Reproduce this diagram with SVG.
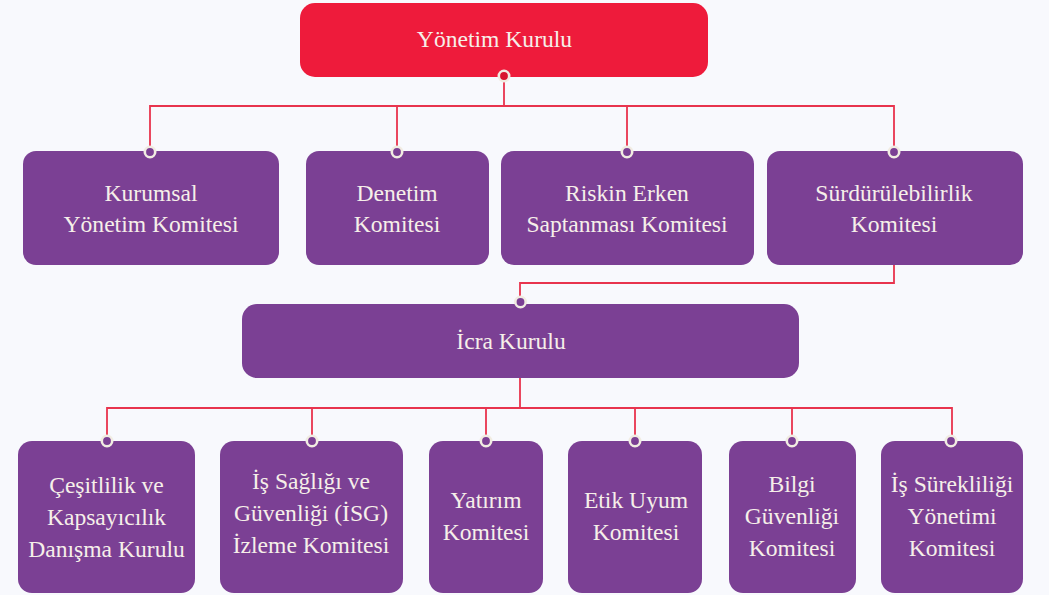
<svg xmlns="http://www.w3.org/2000/svg" width="1049" height="595" viewBox="0 0 1049 595">
<style>
.bg{fill:#f8f9fd}
.red{fill:#ee1b3b}
.pur{fill:#7b4094}
.t{font-family:"Liberation Serif","Times New Roman",serif;font-size:23.6px;fill:#f6efe9;text-anchor:middle}
.ln{fill:none;stroke:#e8344e;stroke-width:1.8}
.dp{fill:#7b4094;stroke:#f1ece2;stroke-width:2.6}
.dr{fill:#d8162f;stroke:#f1ece2;stroke-width:2.6}
</style>
<rect class="bg" x="0" y="0" width="1049" height="595"/>
<g id="connectors">
<path class="ln" d="M504 76V106M150 152V106H894V152M397 106V152M627 106V152"/>
<path class="ln" d="M894 265V283H520V304"/>
<path class="ln" d="M520 378V408M107 441V408H952V441M312 408V441M486 408V441M635 408V441M792 408V441"/>
</g>
<g id="yonetim-kurulu">
<rect class="red" x="300" y="3" width="408" height="74" rx="15"/>
<text class="t" x="494.5" y="47">Yönetim Kurulu</text>
<circle class="dr" cx="504" cy="76" r="5.2"/>
</g>
<g id="kurumsal">
<rect class="pur" x="23" y="151" width="256" height="114" rx="13"/>
<text class="t" x="151" y="201">Kurumsal</text>
<text class="t" x="151" y="232">Yönetim Komitesi</text>
<circle class="dp" cx="150" cy="152" r="5.2"/>
</g>
<g id="denetim">
<rect class="pur" x="306" y="151" width="183" height="114" rx="13"/>
<text class="t" x="397" y="201">Denetim</text>
<text class="t" x="397" y="232">Komitesi</text>
<circle class="dp" cx="397" cy="152" r="5.2"/>
</g>
<g id="riskin">
<rect class="pur" x="501" y="151" width="253" height="114" rx="13"/>
<text class="t" x="627" y="201">Riskin Erken</text>
<text class="t" x="627" y="232">Saptanması Komitesi</text>
<circle class="dp" cx="627" cy="152" r="5.2"/>
</g>
<g id="surdurulebilirlik">
<rect class="pur" x="767" y="151" width="256" height="114" rx="13"/>
<text class="t" x="894" y="201">Sürdürülebilirlik</text>
<text class="t" x="894" y="232">Komitesi</text>
<circle class="dp" cx="894" cy="152" r="5.2"/>
</g>
<g id="icra-kurulu">
<rect class="pur" x="242" y="304" width="557" height="74" rx="15"/>
<text class="t" x="511" y="349">İcra Kurulu</text>
<circle class="dp" cx="520.5" cy="302" r="5.2"/>
</g>
<g id="cesitlilik">
<rect class="pur" x="18" y="441" width="177" height="152" rx="14"/>
<text class="t" x="106.5" y="493">Çeşitlilik ve</text>
<text class="t" x="106.5" y="525">Kapsayıcılık</text>
<text class="t" x="106.5" y="557">Danışma Kurulu</text>
<circle class="dp" cx="107" cy="441" r="5.2"/>
</g>
<g id="isg">
<rect class="pur" x="220" y="441" width="183" height="152" rx="14"/>
<text class="t" x="311" y="489">İş Sağlığı ve</text>
<text class="t" x="311" y="521">Güvenliği (İSG)</text>
<text class="t" x="311" y="553">İzleme Komitesi</text>
<circle class="dp" cx="312" cy="441" r="5.2"/>
</g>
<g id="yatirim">
<rect class="pur" x="429" y="441" width="114" height="152" rx="14"/>
<text class="t" x="486" y="508">Yatırım</text>
<text class="t" x="486" y="540">Komitesi</text>
<circle class="dp" cx="486" cy="441" r="5.2"/>
</g>
<g id="etik">
<rect class="pur" x="568" y="441" width="134" height="152" rx="14"/>
<text class="t" x="636" y="508">Etik Uyum</text>
<text class="t" x="636" y="540">Komitesi</text>
<circle class="dp" cx="635" cy="441" r="5.2"/>
</g>
<g id="bilgi">
<rect class="pur" x="729" y="441" width="127" height="152" rx="14"/>
<text class="t" x="792" y="492">Bilgi</text>
<text class="t" x="792" y="524">Güvenliği</text>
<text class="t" x="792" y="556">Komitesi</text>
<circle class="dp" cx="792" cy="441" r="5.2"/>
</g>
<g id="is-surekliligi">
<rect class="pur" x="881" y="441" width="142" height="152" rx="14"/>
<text class="t" x="952" y="492">İş Sürekliliği</text>
<text class="t" x="952" y="524">Yönetimi</text>
<text class="t" x="952" y="556">Komitesi</text>
<circle class="dp" cx="951" cy="441" r="5.2"/>
</g>
</svg>
